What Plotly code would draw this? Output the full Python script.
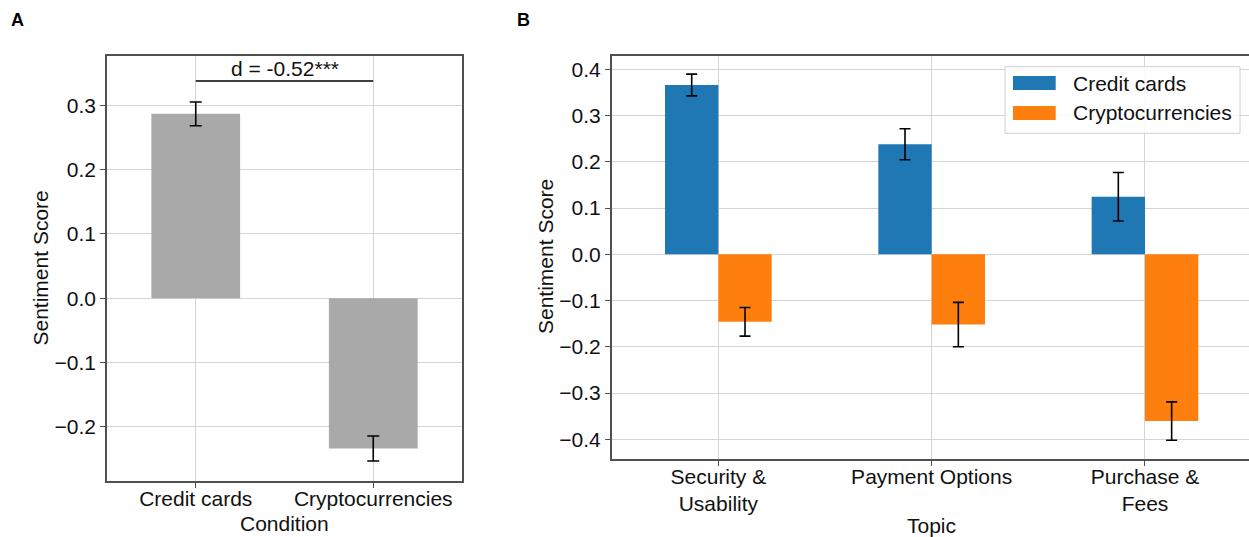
import plotly.graph_objects as go

# ---- data -------------------------------------------------------------
CONDITIONS = ["Credit cards", "Cryptocurrencies"]
CONDITION_MEANS = [0.287, -0.234]
CONDITION_ERRS = [0.0185, 0.0195]
EFFECT_LABEL = "d = -0.52***"
EFFECT_Y = 0.338

TOPICS = ["Security &<br>Usability", "Payment Options", "Purchase &<br>Fees"]
SERIES = ["Credit cards", "Cryptocurrencies"]
CREDIT_MEANS = [0.366, 0.238, 0.1245]
CREDIT_ERRS = [0.0235, 0.0335, 0.0525]
CRYPTO_MEANS = [-0.146, -0.152, -0.3606]
CRYPTO_ERRS = [0.031, 0.048, 0.0415]

TICKS_A = [-0.2, -0.1, 0.0, 0.1, 0.2, 0.3]
TICKS_B = [-0.4, -0.3, -0.2, -0.1, 0.0, 0.1, 0.2, 0.3, 0.4]

# ---- style ------------------------------------------------------------
W, H = 1249, 537
FONT = "Liberation Sans, Arial, sans-serif"
FS = 21
FRAME = "#505050"
GRID = "#d4d4d4"
GRAY_BAR = "#a9a9a9"
BLUE = "#1f77b4"
ORANGE = "#ff7f0e"
TEXT = "#111111"


def px_x(p):
    return p / W


def px_y(p):
    return 1 - p / H


fig = go.Figure()

# Panel A: overall sentiment per condition
fig.add_trace(go.Bar(
    x=CONDITIONS, y=CONDITION_MEANS, width=0.5,
    marker=dict(color=GRAY_BAR, line=dict(width=0)),
    error_y=dict(type="data", array=CONDITION_ERRS, color="black",
                 thickness=1.6, width=6),
    xaxis="x", yaxis="y", showlegend=False,
))

# Panel B: sentiment per topic, grouped by condition
for name, vals, errs, col, off in [
    (SERIES[0], CREDIT_MEANS, CREDIT_ERRS, BLUE, -0.25),
    (SERIES[1], CRYPTO_MEANS, CRYPTO_ERRS, ORANGE, 0.0),
]:
    fig.add_trace(go.Bar(
        x=TOPICS, y=vals, name=name, width=0.25, offset=off,
        marker=dict(color=col, line=dict(width=0)),
        error_y=dict(type="data", array=errs, color="black",
                     thickness=1.6, width=5.5),
        xaxis="x2", yaxis="y2", showlegend=False,
    ))

axis_common = dict(
    showgrid=True, gridcolor=GRID, gridwidth=1,
    showline=True, linecolor=FRAME, linewidth=1.5,
    ticks="outside", ticklen=5, tickwidth=1.2, tickcolor=FRAME,
    tickfont=dict(family=FONT, size=FS, color=TEXT),
    zeroline=False, layer="below traces",
)

fig.update_layout(
    width=W, height=H,
    margin=dict(l=0, r=0, t=0, b=0),
    paper_bgcolor="white", plot_bgcolor="white",
    font=dict(family=FONT, size=FS, color=TEXT),
    barmode="overlay",
    xaxis=dict(axis_common, domain=[px_x(107), px_x(462)], anchor="y",
               type="category", range=[-0.5, 1.5], mirror=True,
               ticklabelstandoff=-7),
    yaxis=dict(axis_common, domain=[px_y(481), px_y(56)], anchor="x",
               range=[-0.2846, 0.377], tickvals=TICKS_A, tickformat=".1f",
               mirror=True),
    xaxis2=dict(axis_common, domain=[px_x(611.7), 1.0], anchor="y2",
                type="category", range=[-0.5, 2.4876], mirror=True,
                ticklabelstandoff=-7),
    yaxis2=dict(axis_common, domain=[px_y(459), px_y(55.7)], anchor="x2",
                range=[-0.4426, 0.4294], tickvals=TICKS_B, tickformat=".1f",
                mirror=False),
)

# effect-size bracket in panel A
fig.add_shape(type="line", xref="x", yref="y", x0=0, x1=1,
              y0=EFFECT_Y, y1=EFFECT_Y, line=dict(color="black", width=1.6))
fig.add_annotation(xref="x", yref="y", x=0.5, y=EFFECT_Y, text=EFFECT_LABEL,
                   showarrow=False, yanchor="bottom", yshift=-1,
                   font=dict(family=FONT, size=FS, color=TEXT))

# panel letters
for letter, xp in [("A", 9), ("B", 515)]:
    fig.add_annotation(xref="paper", yref="paper", x=px_x(xp), y=px_y(8),
                       text=f"<b>{letter}</b>", showarrow=False,
                       xanchor="left", yanchor="top",
                       font=dict(family=FONT, size=18, color="black"))

# axis titles
titles = [
    ("Sentiment Score", 40, 268.5, -90),
    ("Condition", 284.5, 523, 0),
    ("Sentiment Score", 545, 257, -90),
    ("Topic", 931.7, 525, 0),
]
for txt, xp, yp, ang in titles:
    fig.add_annotation(xref="paper", yref="paper", x=px_x(xp), y=px_y(yp),
                       text=txt, showarrow=False, textangle=ang,
                       xanchor="center", yanchor="middle",
                       font=dict(family=FONT, size=FS, color=TEXT))

# legend box for panel B
fig.add_shape(type="rect", xref="paper", yref="paper",
              x0=px_x(1005), x1=px_x(1240), y0=px_y(133.3), y1=px_y(66.7),
              line=dict(color="#d0d0d0", width=1),
              fillcolor="rgba(255,255,255,0.85)", layer="above")
for name, col, top in [(SERIES[0], BLUE, 76), (SERIES[1], ORANGE, 106)]:
    fig.add_shape(type="rect", xref="paper", yref="paper",
                  x0=px_x(1013), x1=px_x(1055.7),
                  y0=px_y(top + 14), y1=px_y(top),
                  line=dict(width=0), fillcolor=col, layer="above")
    fig.add_annotation(xref="paper", yref="paper", x=px_x(1071),
                       y=px_y(top + 7), text=name, showarrow=False,
                       xanchor="left", yanchor="middle",
                       font=dict(family=FONT, size=FS, color=TEXT))

fig.write_html("out.html")
